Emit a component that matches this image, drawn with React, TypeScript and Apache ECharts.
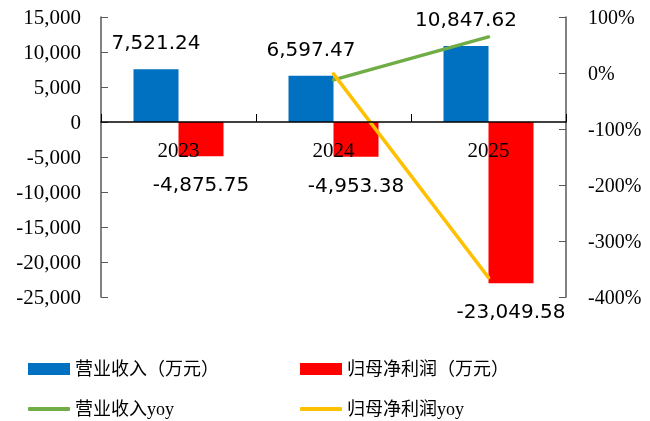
import React, { useEffect, useRef } from "react";
import * as echarts from "echarts";

const categories = ["2023", "2024", "2025"];
const revenue = [7521.24, 6597.47, 10847.62];
const netProfit = [-4875.75, -4953.38, -23049.58];
const revenueYoy = [null, -12.28, 64.42];
const profitYoy = [null, -1.59, -365.33];
const seriesNames = ["营业收入（万元）", "归母净利润（万元）", "营业收入yoy", "归母净利润yoy"];

const fmtThousands = (v: number, d = 0) =>
  v.toLocaleString("en-US", { minimumFractionDigits: d, maximumFractionDigits: d });

const serif = "'Liberation Serif', 'Times New Roman', serif";
const legendFont = "'Liberation Serif', 'Noto Sans CJK SC', serif";
const labelFont = "'DejaVu Sans', sans-serif";

const legendItem = (name: string, left: number, top: number, isLine: boolean) => ({
  left,
  top,
  itemWidth: 42,
  itemHeight: isLine ? 4 : 12,
  icon: isLine ? "roundRect" : "rect",
  textStyle: { fontFamily: legendFont, fontSize: 18, lineHeight: 18, color: "#000" },
  data: [name],
});

export default function App() {
  const ref = useRef<HTMLDivElement>(null);
  useEffect(() => {
    const chart = echarts.init(ref.current!, null, { renderer: "svg" });
    chart.setOption({
      animation: false,
      grid: { left: 101, right: 84, top: 17, bottom: 124 },
      legend: [
        legendItem(seriesNames[0], 23, 355, false),
        legendItem(seriesNames[1], 295, 355, false),
        legendItem(seriesNames[2], 23, 395, true),
        legendItem(seriesNames[3], 295, 395, true),
      ],
      xAxis: {
        type: "category",
        data: categories,
        z: 10,
        axisLine: { onZero: true, lineStyle: { color: "#000", width: 1.5 } },
        axisTick: { show: true, inside: true, length: 8, lineStyle: { color: "#000" } },
        axisLabel: { margin: -158, fontFamily: serif, fontSize: 21, color: "#000" },
      },
      yAxis: [
        {
          type: "value",
          min: -25000,
          max: 15000,
          interval: 5000,
          splitLine: { show: false },
          axisLine: { show: true, lineStyle: { color: "#595959", width: 1.5 } },
          axisTick: { show: true, inside: true, length: 7, lineStyle: { color: "#595959" } },
          axisLabel: {
            margin: 20,
            fontFamily: serif,
            fontSize: 21,
            color: "#000",
            formatter: (v: number) => fmtThousands(v),
          },
        },
        {
          type: "value",
          min: -400,
          max: 100,
          interval: 100,
          splitLine: { show: false },
          axisLine: { show: true, lineStyle: { color: "#595959", width: 1.5 } },
          axisTick: { show: true, inside: true, length: 7, lineStyle: { color: "#595959" } },
          axisLabel: {
            margin: 22,
            fontFamily: serif,
            fontSize: 20,
            color: "#000",
            formatter: (v: number) => v + "%",
          },
        },
      ],
      series: [
        {
          name: seriesNames[0],
          type: "bar",
          data: revenue,
          barWidth: 45,
          barGap: "0%",
          itemStyle: { color: "#0070C0" },
          label: {
            show: true,
            position: "top",
            distance: 17,
            fontFamily: labelFont,
            fontSize: 20,
            color: "#000",
            formatter: (p: any) => fmtThousands(p.value, 2),
          },
        },
        {
          name: seriesNames[1],
          type: "bar",
          data: netProfit,
          barWidth: 45,
          barGap: "0%",
          itemStyle: { color: "#FF0000" },
          label: {
            show: true,
            position: "bottom",
            distance: 18,
            fontFamily: labelFont,
            fontSize: 20,
            color: "#000",
            formatter: (p: any) => fmtThousands(p.value, 2),
          },
        },
        {
          name: seriesNames[2],
          type: "line",
          yAxisIndex: 1,
          data: revenueYoy,
          symbol: "none",
          z: 4,
          lineStyle: { color: "#70AD47", width: 3.5, cap: "round" },
          itemStyle: { color: "#70AD47" },
        },
        {
          name: seriesNames[3],
          type: "line",
          yAxisIndex: 1,
          data: profitYoy,
          symbol: "none",
          z: 5,
          lineStyle: { color: "#FFC000", width: 3.5, cap: "round" },
          itemStyle: { color: "#FFC000" },
        },
      ],
    });
    return () => chart.dispose();
  }, []);
  return (
    <div
      ref={ref}
      style={{ position: "fixed", left: 0, top: 0, width: 650, height: 421 }}
    />
  );
}
